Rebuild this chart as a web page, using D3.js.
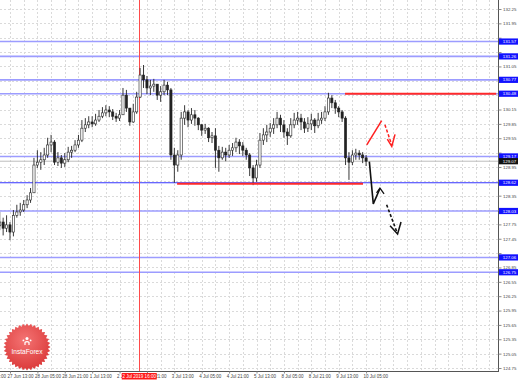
<!DOCTYPE html>
<html><head><meta charset="utf-8">
<script src="https://cdn.jsdelivr.net/npm/d3@7"></script>
<style>html,body{margin:0;padding:0;background:#fff;overflow:hidden}</style>
</head><body><svg id="c" width="518" height="380"></svg>
<script>
// ---------- data (2-hour candles, bar index t = trading hours since 26 Jun 21:00) ----------
const firstBar = 10, barStep = 2;
const firstOpen = 127.72;
const closes = [127.80,127.67,127.74,127.59,127.94,128.01,128.05,128.16,128.26,128.41,
128.99,129.05,129.10,129.20,129.41,129.47,129.05,129.14,129.03,129.10,
129.26,129.30,129.41,129.51,129.76,129.83,129.89,129.85,129.93,130.01,
130.08,130.14,130.10,130.01,129.97,130.04,130.45,130.18,129.89,130.10,
130.41,130.87,130.77,130.60,130.64,130.68,130.45,130.52,130.66,130.56,
129.20,128.99,129.20,129.97,130.10,129.93,130.04,129.97,129.83,129.72,
129.76,129.56,129.60,129.30,129.14,129.26,129.20,129.30,129.35,129.47,
129.39,129.30,129.20,128.93,128.72,128.99,129.51,129.62,129.68,129.76,
129.83,129.97,129.83,129.68,129.60,129.83,129.93,129.97,129.89,129.76,
129.85,129.93,129.81,129.93,129.97,130.10,130.39,130.29,130.18,130.10,
129.97,129.14,129.05,129.20,129.24,129.20,129.14,129.07];
const highs = [128.01,127.89,127.94,127.80,128.05,128.16,128.20,128.26,128.36,128.51,
129.14,129.30,129.26,129.35,129.56,129.62,129.51,129.26,129.20,129.24,
129.37,129.39,129.51,129.62,129.93,129.97,130.01,130.01,130.06,130.14,
130.20,130.24,130.22,130.16,130.08,130.14,130.60,130.56,130.18,130.27,
130.52,131.02,131.08,130.85,130.77,130.79,130.66,130.64,130.77,130.73,
130.60,129.35,129.30,130.10,130.24,130.14,130.18,130.14,129.99,129.85,
129.85,129.78,129.68,129.76,129.39,129.37,129.35,129.41,129.45,129.56,
129.53,129.47,129.35,129.24,128.99,129.10,129.66,129.76,129.83,129.87,
129.97,130.10,130.04,129.93,129.76,129.97,130.08,130.10,130.06,129.97,
129.99,130.06,129.97,130.08,130.10,130.22,130.50,130.45,130.35,130.22,
130.14,130.01,129.26,129.30,129.33,129.30,129.26,129.20];
const lows = [127.63,127.52,127.59,127.42,127.50,127.89,127.93,128.01,128.09,128.20,
128.43,128.93,128.89,128.99,129.14,129.26,128.99,128.97,128.93,128.95,
129.05,129.14,129.26,129.35,129.47,129.68,129.76,129.78,129.81,129.89,
129.97,130.01,129.99,129.93,129.89,129.91,130.06,130.10,129.81,129.87,
130.06,130.39,130.60,130.47,130.45,130.52,130.35,130.31,130.45,130.45,
129.10,128.62,128.85,129.10,129.83,129.78,129.85,129.81,129.72,129.60,
129.64,129.47,129.45,128.93,128.85,129.10,129.07,129.14,129.18,129.26,
129.22,129.18,129.10,128.76,128.57,128.64,128.93,129.41,129.47,129.58,
129.64,129.76,129.68,129.56,129.41,129.56,129.76,129.83,129.72,129.66,
129.68,129.72,129.66,129.76,129.85,129.91,130.04,130.18,130.06,129.99,
129.89,128.99,128.68,128.99,129.10,129.10,129.03,128.97];

const priceTicks = [132.25,131.95,131.65,131.35,131.05,130.75,130.45,130.15,129.85,129.55,
129.25,128.95,128.65,128.35,128.05,127.75,127.45,127.15,126.85,126.55,126.25,125.95,
125.65,125.35,125.05,124.75];
const timeTickBars = [0,16,32,48,64,80,96,112,128,144,160,176,192,208,224];
const timeTickLabels = ["26 Jun 21:00","27 Jun 13:00","28 Jun 05:00","28 Jun 21:00","1 Jul 13:00",
"2 Jul 05:00","2 Jul 21:00","3 Jul 13:00","4 Jul 05:00","4 Jul 21:00","5 Jul 13:00",
"8 Jul 05:00","8 Jul 21:00","9 Jul 13:00","10 Jul 05:00"];

const levels = [131.57,131.26,130.77,130.48,129.17,128.62,128.03,127.06,126.75];
const strongLevel = 128.62;
const bidPrice = 129.07;
const crossBar = 91.5, crossLabel = "2 Jul 2019 16:00";
const resistance = {price:130.48, from:211.7, to:300};
const support = {price:128.60, from:113.6, to:222.2};
const redUp = [[224.4,129.41],[233.1,129.92]];
const redDown = [[235.0,129.83],[239.0,129.41]];
const redHead = [[236.4,129.53],[239.0,129.38],[240.9,129.63]];
const blackDown = [[225.9,129.06],[228.2,128.18],[232.1,128.50]];
const blackHead1 = [[230.1,128.41],[232.1,128.51],[234.5,128.39]];
const blackDown2 = [[236.0,128.16],[241.9,127.60]];
const blackHead2 = [[238.0,127.72],[242.4,127.55],[244.4,127.80]];

// ---------- drawing ----------
const plotR = 498, plotB = 371;
const FONT = "'Liberation Sans', Arial, sans-serif";
const svg = d3.select("#c");
const x = d3.scaleLinear().domain([0,300]).range([-17.4, 496.2]);
const y = d3.scaleLinear().domain([124.75,132.25]).range([368,9]);
const px = v => Math.round(v)+0.5;

svg.append("rect").attr("width",518).attr("height",380).attr("fill","#fff");
const defs = svg.append("defs");
defs.append("clipPath").attr("id","clip").append("rect").attr("x",0).attr("y",0).attr("width",plotR).attr("height",plotB);
const plot = svg.append("g").attr("clip-path","url(#clip)");

// grid
plot.selectAll(".hg").data(priceTicks).join("line")
  .attr("x1",0).attr("x2",plotR).attr("y1",d=>px(y(d))).attr("y2",d=>px(y(d)))
  .attr("stroke","#dadada").attr("stroke-dasharray","2,2");
plot.selectAll(".vg").data(d3.range(0,300,8)).join("line")
  .attr("y1",0).attr("y2",plotB).attr("x1",d=>px(x(d))).attr("x2",d=>px(x(d)))
  .attr("stroke","#dadada").attr("stroke-dasharray","2,2");

// bid line
plot.append("line").attr("x1",0).attr("x2",plotR).attr("y1",y(bidPrice)).attr("y2",y(bidPrice))
  .attr("stroke","#bdbdbd").attr("stroke-width",1);

// level lines
plot.selectAll(".lv").data(levels).join("line")
  .attr("x1",0).attr("x2",plotR).attr("y1",d=>y(d)).attr("y2",d=>y(d))
  .attr("stroke",d=>d===strongLevel?"#3434ff":"#9c9cff")
  .attr("stroke-width",d=>d===strongLevel?1:1.6);

// crosshair vertical red line
plot.append("line").attr("x1",px(x(crossBar))).attr("x2",px(x(crossBar))).attr("y1",0).attr("y2",plotB)
  .attr("stroke","#ff4a4a").attr("stroke-width",1);

// candles
const bars = closes.map((c,i)=>({t:firstBar+i*barStep, o:i===0?firstOpen:closes[i-1], h:highs[i], l:lows[i], c}));
plot.selectAll(".wick").data(bars).join("line")
  .attr("x1",d=>x(d.t)).attr("x2",d=>x(d.t))
  .attr("y1",d=>y(Math.max(d.h,d.o,d.c))).attr("y2",d=>y(Math.min(d.l,d.o,d.c)))
  .attr("stroke","#222").attr("stroke-width",0.9);
plot.selectAll(".body").data(bars).join("rect")
  .attr("x",d=>x(d.t)-1.1).attr("width",2.2)
  .attr("y",d=>y(Math.max(d.o,d.c))).attr("height",d=>Math.max(0.8,Math.abs(y(d.o)-y(d.c))))
  .attr("fill",d=>d.c>=d.o?"#fff":"#222").attr("stroke","#222").attr("stroke-width",0.6);

// red horizontal levels
[resistance,support].forEach(r=>{
  plot.append("line").attr("x1",x(r.from)).attr("x2",Math.min(plotR,x(r.to)))
    .attr("y1",y(r.price)).attr("y2",y(r.price)).attr("stroke","#ff2a2a").attr("stroke-width",2);
});

// arrows
const ln = d3.line().x(d=>x(d[0])).y(d=>y(d[1]));
function path(pts,color,w,dash){
  plot.append("path").attr("d",ln(pts)).attr("fill","none").attr("stroke",color)
    .attr("stroke-width",w).attr("stroke-dasharray",dash||null).attr("stroke-linejoin","miter");
}
path(redUp,"#ff2020",1.5);
path(redDown,"#ff2020",1.5,"3,2");
path(redHead,"#ff2020",1.5);
path(blackDown,"#111",1.6);
path(blackHead1,"#111",1.3);
path(blackDown2,"#111",1.6,"3,2");
path(blackHead2,"#111",1.5);

// frame
svg.append("line").attr("x1",plotR+0.5).attr("x2",plotR+0.5).attr("y1",0).attr("y2",plotB+1).attr("stroke","#555");
svg.append("line").attr("x1",0).attr("x2",plotR+1).attr("y1",plotB+0.5).attr("y2",plotB+0.5).attr("stroke","#555");

// right axis (grey labels hidden where a coloured price box covers them)
const boxed = levels.concat([bidPrice]);
const ay = svg.append("g").attr("transform",`translate(${plotR+0.5},0)`)
  .call(d3.axisRight(y).tickValues(priceTicks).tickSize(3).tickSizeOuter(0).tickFormat(d3.format(".2f")));
ay.select(".domain").remove();
ay.selectAll("line").attr("stroke","#888");
ay.selectAll("text").attr("x",4.5).attr("font-family",FONT).attr("font-size",4.4).attr("fill","#444")
  .attr("display",d=>boxed.some(b=>Math.abs(y(b)-y(d))<4.6)?"none":null);

// bottom axis
const ax = svg.append("g").attr("transform",`translate(0,${plotB+0.5})`)
  .call(d3.axisBottom(x).tickValues(timeTickBars).tickSize(2).tickSizeOuter(0).tickFormat((d,i)=>timeTickLabels[i]));
ax.select(".domain").remove();
ax.selectAll("line").attr("stroke","#888");
ax.selectAll("text").attr("text-anchor","start").attr("dx",-3).attr("y",3.5)
  .attr("font-family",FONT).attr("font-size",4.5).attr("fill","#444");

// price label boxes
function priceBox(p,fill){
  const g = svg.append("g").attr("transform",`translate(${plotR+1},${y(p)})`);
  g.append("rect").attr("x",0).attr("y",-3.1).attr("width",19).attr("height",6.2).attr("fill",fill);
  g.append("text").attr("x",3.8).attr("y",1.6).attr("font-family",FONT).attr("font-size",4.4)
    .attr("fill","#fff").text(d3.format(".2f")(p));
}
levels.forEach(p=>priceBox(p,"#1212ff"));
priceBox(bidPrice,"#111");

// crosshair time box
const cb = svg.append("g").attr("transform",`translate(${x(crossBar)},${plotB+1})`);
cb.append("rect").attr("x",-17.5).attr("y",1).attr("width",35).attr("height",6.5).attr("fill","#ff1a1a");
cb.append("text").attr("y",5.9).attr("text-anchor","middle").attr("font-family",FONT).attr("font-size",4.5)
  .attr("fill","#fff").text(crossLabel);

// logo badge
const grad = defs.append("radialGradient").attr("id","lg").attr("cx","45%").attr("cy","35%").attr("r","70%");
grad.append("stop").attr("offset","0%").attr("stop-color","#f47373");
grad.append("stop").attr("offset","100%").attr("stop-color","#d93636");
const logo = svg.append("g").attr("transform","translate(27,347)");
const teeth = 36, pts = [];
for(let i=0;i<teeth*2;i++){const a=i*Math.PI/teeth, r=i%2?21:23.5; pts.push([Math.sin(a)*r,-Math.cos(a)*r]);}
logo.append("path").attr("d","M"+pts.map(p=>p.join(",")).join("L")+"Z").attr("fill","url(#lg)");
logo.append("circle").attr("cx",0).attr("cy",-8.5).attr("r",1.5).attr("fill","#fff");
logo.append("path").attr("d","M-2.6,-2 L-2.6,-5 Q0,-7.2 2.6,-5 L2.6,-2 L1.4,-2 L1.4,-4.3 Q0,-5.3 -1.4,-4.3 L-1.4,-2 Z").attr("fill","#fff");
logo.append("circle").attr("cx",-3.6).attr("cy",-6.6).attr("r",0.9).attr("fill","#fff");
logo.append("circle").attr("cx",3.6).attr("cy",-6.6).attr("r",0.9).attr("fill","#fff");
logo.append("text").attr("x",0).attr("y",6.5).attr("text-anchor","middle").attr("font-family",FONT)
  .attr("font-size",6.6).attr("fill","#fff").text("InstaForex");
</script></body></html>
